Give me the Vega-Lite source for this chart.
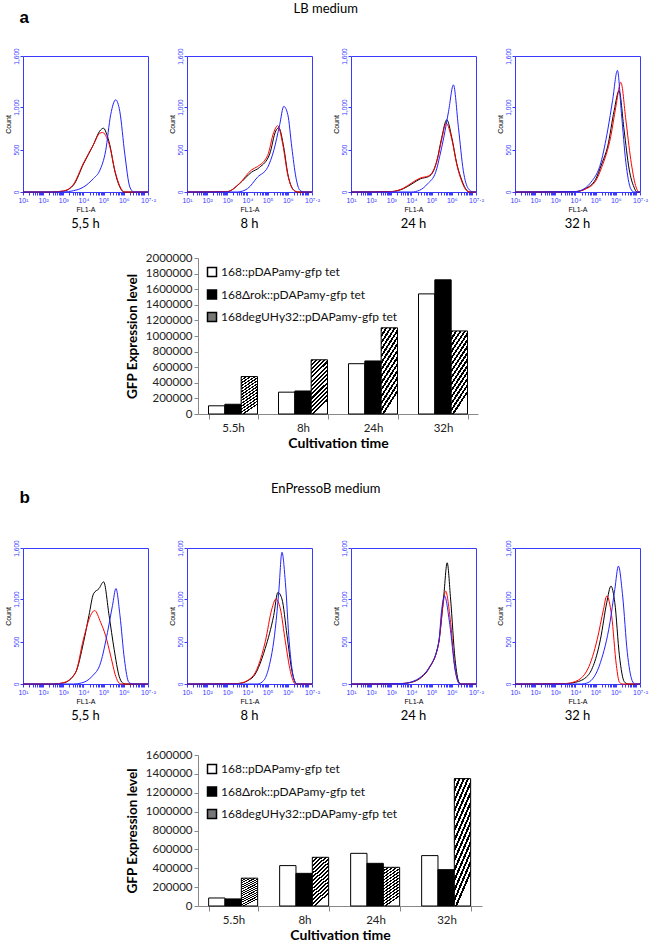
{
"$schema": "https://vega.github.io/schema/vega-lite/v6.json",
"padding": {"left": 3, "right": 3, "top": 3, "bottom": 3},
"background": "white",
"config": {
  "view": {"stroke": null},
  "axis": {"grid": false},
  "title": {"color": "#000"}
},
"datasets": {
"hist": [
{"p":"a1","s":"k","e":1,"c":0},{"p":"a1","s":"k","e":2.4,"c":0},{"p":"a1","s":"k","e":3,"c":10},{"p":"a1","s":"k","e":3.5,"c":80},{"p":"a1","s":"k","e":4,"c":330},{"p":"a1","s":"k","e":4.5,"c":560},{"p":"a1","s":"k","e":4.8,"c":715},{"p":"a1","s":"k","e":5,"c":750},{"p":"a1","s":"k","e":5.15,"c":680},{"p":"a1","s":"k","e":5.3,"c":560},{"p":"a1","s":"k","e":5.55,"c":250},{"p":"a1","s":"k","e":5.8,"c":60},{"p":"a1","s":"k","e":6,"c":0},{"p":"a1","s":"k","e":7.2,"c":0},
{"p":"a1","s":"r","e":1,"c":0},{"p":"a1","s":"r","e":2.4,"c":0},{"p":"a1","s":"r","e":3,"c":12},{"p":"a1","s":"r","e":3.5,"c":90},{"p":"a1","s":"r","e":4,"c":340},{"p":"a1","s":"r","e":4.5,"c":560},{"p":"a1","s":"r","e":4.8,"c":690},{"p":"a1","s":"r","e":4.95,"c":700},{"p":"a1","s":"r","e":5.15,"c":640},{"p":"a1","s":"r","e":5.3,"c":540},{"p":"a1","s":"r","e":5.55,"c":260},{"p":"a1","s":"r","e":5.8,"c":70},{"p":"a1","s":"r","e":6.05,"c":0},{"p":"a1","s":"r","e":7.2,"c":0},
{"p":"a1","s":"b","e":1,"c":0},{"p":"a1","s":"b","e":3,"c":0},{"p":"a1","s":"b","e":3.5,"c":15},{"p":"a1","s":"b","e":4,"c":58},{"p":"a1","s":"b","e":4.5,"c":160},{"p":"a1","s":"b","e":4.8,"c":250},{"p":"a1","s":"b","e":5.1,"c":485},{"p":"a1","s":"b","e":5.35,"c":910},{"p":"a1","s":"b","e":5.6,"c":1085},{"p":"a1","s":"b","e":5.8,"c":950},{"p":"a1","s":"b","e":6.05,"c":445},{"p":"a1","s":"b","e":6.3,"c":58},{"p":"a1","s":"b","e":6.5,"c":0},{"p":"a1","s":"b","e":7.2,"c":0},
{"p":"a2","s":"k","e":1,"c":0},{"p":"a2","s":"k","e":3,"c":5},{"p":"a2","s":"k","e":3.6,"c":97},{"p":"a2","s":"k","e":4.2,"c":233},{"p":"a2","s":"k","e":4.6,"c":290},{"p":"a2","s":"k","e":5.1,"c":446},{"p":"a2","s":"k","e":5.4,"c":717},{"p":"a2","s":"k","e":5.55,"c":756},{"p":"a2","s":"k","e":5.8,"c":523},{"p":"a2","s":"k","e":6,"c":213},{"p":"a2","s":"k","e":6.3,"c":20},{"p":"a2","s":"k","e":6.5,"c":0},{"p":"a2","s":"k","e":7.2,"c":0},
{"p":"a2","s":"r","e":1,"c":0},{"p":"a2","s":"r","e":3,"c":5},{"p":"a2","s":"r","e":3.6,"c":100},{"p":"a2","s":"r","e":4.2,"c":260},{"p":"a2","s":"r","e":4.5,"c":300},{"p":"a2","s":"r","e":5,"c":430},{"p":"a2","s":"r","e":5.3,"c":700},{"p":"a2","s":"r","e":5.5,"c":780},{"p":"a2","s":"r","e":5.75,"c":560},{"p":"a2","s":"r","e":6,"c":200},{"p":"a2","s":"r","e":6.3,"c":20},{"p":"a2","s":"r","e":6.5,"c":0},{"p":"a2","s":"r","e":7.2,"c":0},
{"p":"a2","s":"b","e":1,"c":0},{"p":"a2","s":"b","e":3.5,"c":0},{"p":"a2","s":"b","e":4,"c":39},{"p":"a2","s":"b","e":4.5,"c":175},{"p":"a2","s":"b","e":5,"c":290},{"p":"a2","s":"b","e":5.3,"c":485},{"p":"a2","s":"b","e":5.6,"c":795},{"p":"a2","s":"b","e":5.8,"c":1008},{"p":"a2","s":"b","e":6,"c":911},{"p":"a2","s":"b","e":6.2,"c":523},{"p":"a2","s":"b","e":6.4,"c":175},{"p":"a2","s":"b","e":6.6,"c":20},{"p":"a2","s":"b","e":6.8,"c":0},{"p":"a2","s":"b","e":7.2,"c":0},
{"p":"a3","s":"k","e":1,"c":0},{"p":"a3","s":"k","e":3,"c":5},{"p":"a3","s":"k","e":3.6,"c":39},{"p":"a3","s":"k","e":4.03,"c":97},{"p":"a3","s":"k","e":4.44,"c":155},{"p":"a3","s":"k","e":4.85,"c":182},{"p":"a3","s":"k","e":5.1,"c":252},{"p":"a3","s":"k","e":5.26,"c":368},{"p":"a3","s":"k","e":5.5,"c":640},{"p":"a3","s":"k","e":5.75,"c":850},{"p":"a3","s":"k","e":6,"c":640},{"p":"a3","s":"k","e":6.25,"c":330},{"p":"a3","s":"k","e":6.5,"c":136},{"p":"a3","s":"k","e":6.74,"c":20},{"p":"a3","s":"k","e":6.9,"c":0},{"p":"a3","s":"k","e":7.2,"c":0},
{"p":"a3","s":"r","e":1,"c":0},{"p":"a3","s":"r","e":3,"c":5},{"p":"a3","s":"r","e":3.6,"c":45},{"p":"a3","s":"r","e":4.03,"c":110},{"p":"a3","s":"r","e":4.44,"c":165},{"p":"a3","s":"r","e":4.85,"c":190},{"p":"a3","s":"r","e":5.1,"c":260},{"p":"a3","s":"r","e":5.3,"c":400},{"p":"a3","s":"r","e":5.5,"c":620},{"p":"a3","s":"r","e":5.72,"c":810},{"p":"a3","s":"r","e":6,"c":620},{"p":"a3","s":"r","e":6.25,"c":320},{"p":"a3","s":"r","e":6.5,"c":120},{"p":"a3","s":"r","e":6.74,"c":15},{"p":"a3","s":"r","e":6.9,"c":0},{"p":"a3","s":"r","e":7.2,"c":0},
{"p":"a3","s":"b","e":1,"c":0},{"p":"a3","s":"b","e":4,"c":0},{"p":"a3","s":"b","e":4.4,"c":20},{"p":"a3","s":"b","e":4.8,"c":97},{"p":"a3","s":"b","e":5.2,"c":233},{"p":"a3","s":"b","e":5.4,"c":420},{"p":"a3","s":"b","e":5.6,"c":640},{"p":"a3","s":"b","e":5.84,"c":950},{"p":"a3","s":"b","e":6.08,"c":1260},{"p":"a3","s":"b","e":6.33,"c":756},{"p":"a3","s":"b","e":6.57,"c":252},{"p":"a3","s":"b","e":6.82,"c":39},{"p":"a3","s":"b","e":7.07,"c":0},{"p":"a3","s":"b","e":7.2,"c":0},
{"p":"a4","s":"k","e":1,"c":0},{"p":"a4","s":"k","e":4,"c":5},{"p":"a4","s":"k","e":4.5,"c":40},{"p":"a4","s":"k","e":5,"c":150},{"p":"a4","s":"k","e":5.3,"c":330},{"p":"a4","s":"k","e":5.6,"c":540},{"p":"a4","s":"k","e":5.92,"c":960},{"p":"a4","s":"k","e":6.16,"c":1190},{"p":"a4","s":"k","e":6.41,"c":730},{"p":"a4","s":"k","e":6.66,"c":270},{"p":"a4","s":"k","e":6.9,"c":58},{"p":"a4","s":"k","e":7.05,"c":0},{"p":"a4","s":"k","e":7.2,"c":0},
{"p":"a4","s":"r","e":1,"c":0},{"p":"a4","s":"r","e":4,"c":5},{"p":"a4","s":"r","e":4.5,"c":35},{"p":"a4","s":"r","e":5,"c":130},{"p":"a4","s":"r","e":5.3,"c":290},{"p":"a4","s":"r","e":5.75,"c":654},{"p":"a4","s":"r","e":6,"c":1000},{"p":"a4","s":"r","e":6.25,"c":1290},{"p":"a4","s":"r","e":6.5,"c":846},{"p":"a4","s":"r","e":6.74,"c":385},{"p":"a4","s":"r","e":6.98,"c":77},{"p":"a4","s":"r","e":7.15,"c":0},{"p":"a4","s":"r","e":7.2,"c":0},
{"p":"a4","s":"b","e":1,"c":0},{"p":"a4","s":"b","e":4,"c":5},{"p":"a4","s":"b","e":4.5,"c":50},{"p":"a4","s":"b","e":4.77,"c":115},{"p":"a4","s":"b","e":5.26,"c":346},{"p":"a4","s":"b","e":5.6,"c":730},{"p":"a4","s":"b","e":5.84,"c":1077},{"p":"a4","s":"b","e":6.08,"c":1430},{"p":"a4","s":"b","e":6.28,"c":923},{"p":"a4","s":"b","e":6.5,"c":346},{"p":"a4","s":"b","e":6.74,"c":38},{"p":"a4","s":"b","e":6.9,"c":0},{"p":"a4","s":"b","e":7.2,"c":0},
{"p":"b1","s":"k","e":1,"c":0},{"p":"b1","s":"k","e":2.5,"c":0},{"p":"b1","s":"k","e":3,"c":12},{"p":"b1","s":"k","e":3.6,"c":131},{"p":"b1","s":"k","e":4,"c":488},{"p":"b1","s":"k","e":4.27,"c":806},{"p":"b1","s":"k","e":4.5,"c":1063},{"p":"b1","s":"k","e":4.77,"c":1123},{"p":"b1","s":"k","e":5,"c":1202},{"p":"b1","s":"k","e":5.27,"c":806},{"p":"b1","s":"k","e":5.52,"c":409},{"p":"b1","s":"k","e":5.77,"c":91},{"p":"b1","s":"k","e":5.94,"c":12},{"p":"b1","s":"k","e":6.1,"c":0},{"p":"b1","s":"k","e":7.2,"c":0},
{"p":"b1","s":"r","e":1,"c":0},{"p":"b1","s":"r","e":2.5,"c":0},{"p":"b1","s":"r","e":3,"c":15},{"p":"b1","s":"r","e":3.6,"c":131},{"p":"b1","s":"r","e":4,"c":528},{"p":"b1","s":"r","e":4.35,"c":806},{"p":"b1","s":"r","e":4.55,"c":865},{"p":"b1","s":"r","e":4.85,"c":726},{"p":"b1","s":"r","e":5.1,"c":567},{"p":"b1","s":"r","e":5.35,"c":330},{"p":"b1","s":"r","e":5.6,"c":91},{"p":"b1","s":"r","e":5.77,"c":10},{"p":"b1","s":"r","e":5.9,"c":0},{"p":"b1","s":"r","e":7.2,"c":0},
{"p":"b1","s":"b","e":1,"c":0},{"p":"b1","s":"b","e":3.5,"c":0},{"p":"b1","s":"b","e":3.9,"c":12},{"p":"b1","s":"b","e":4.43,"c":91},{"p":"b1","s":"b","e":4.85,"c":250},{"p":"b1","s":"b","e":5.19,"c":607},{"p":"b1","s":"b","e":5.44,"c":925},{"p":"b1","s":"b","e":5.61,"c":1123},{"p":"b1","s":"b","e":5.81,"c":806},{"p":"b1","s":"b","e":6.03,"c":290},{"p":"b1","s":"b","e":6.25,"c":20},{"p":"b1","s":"b","e":6.45,"c":0},{"p":"b1","s":"b","e":7.2,"c":0},
{"p":"b2","s":"k","e":1,"c":0},{"p":"b2","s":"k","e":3.5,"c":5},{"p":"b2","s":"k","e":4.22,"c":70},{"p":"b2","s":"k","e":4.88,"c":419},{"p":"b2","s":"k","e":5.3,"c":806},{"p":"b2","s":"k","e":5.51,"c":1078},{"p":"b2","s":"k","e":5.71,"c":1000},{"p":"b2","s":"k","e":5.96,"c":574},{"p":"b2","s":"k","e":6.21,"c":147},{"p":"b2","s":"k","e":6.45,"c":0},{"p":"b2","s":"k","e":7.2,"c":0},
{"p":"b2","s":"r","e":1,"c":0},{"p":"b2","s":"r","e":3.5,"c":5},{"p":"b2","s":"r","e":4.22,"c":80},{"p":"b2","s":"r","e":4.88,"c":496},{"p":"b2","s":"r","e":5.21,"c":884},{"p":"b2","s":"r","e":5.41,"c":1000},{"p":"b2","s":"r","e":5.63,"c":884},{"p":"b2","s":"r","e":5.88,"c":496},{"p":"b2","s":"r","e":6.13,"c":147},{"p":"b2","s":"r","e":6.38,"c":0},{"p":"b2","s":"r","e":7.2,"c":0},
{"p":"b2","s":"b","e":1,"c":0},{"p":"b2","s":"b","e":4.5,"c":0},{"p":"b2","s":"b","e":4.8,"c":40},{"p":"b2","s":"b","e":5.05,"c":186},{"p":"b2","s":"b","e":5.38,"c":651},{"p":"b2","s":"b","e":5.55,"c":1078},{"p":"b2","s":"b","e":5.71,"c":1550},{"p":"b2","s":"b","e":5.88,"c":1194},{"p":"b2","s":"b","e":6.07,"c":496},{"p":"b2","s":"b","e":6.29,"c":70},{"p":"b2","s":"b","e":6.45,"c":0},{"p":"b2","s":"b","e":7.2,"c":0},
{"p":"b3","s":"k","e":1,"c":0},{"p":"b3","s":"k","e":3.5,"c":5},{"p":"b3","s":"k","e":4,"c":20},{"p":"b3","s":"k","e":4.5,"c":80},{"p":"b3","s":"k","e":4.85,"c":176},{"p":"b3","s":"k","e":5.35,"c":488},{"p":"b3","s":"k","e":5.6,"c":1035},{"p":"b3","s":"k","e":5.77,"c":1426},{"p":"b3","s":"k","e":5.94,"c":1000},{"p":"b3","s":"k","e":6.16,"c":293},{"p":"b3","s":"k","e":6.36,"c":20},{"p":"b3","s":"k","e":6.5,"c":0},{"p":"b3","s":"k","e":7.2,"c":0},
{"p":"b3","s":"r","e":1,"c":0},{"p":"b3","s":"r","e":3.5,"c":5},{"p":"b3","s":"r","e":4,"c":22},{"p":"b3","s":"r","e":4.5,"c":85},{"p":"b3","s":"r","e":4.85,"c":180},{"p":"b3","s":"r","e":5.35,"c":480},{"p":"b3","s":"r","e":5.55,"c":900},{"p":"b3","s":"r","e":5.69,"c":1094},{"p":"b3","s":"r","e":5.94,"c":723},{"p":"b3","s":"r","e":6.16,"c":176},{"p":"b3","s":"r","e":6.4,"c":0},{"p":"b3","s":"r","e":7.2,"c":0},
{"p":"b3","s":"b","e":1,"c":0},{"p":"b3","s":"b","e":3.5,"c":5},{"p":"b3","s":"b","e":4,"c":25},{"p":"b3","s":"b","e":4.5,"c":90},{"p":"b3","s":"b","e":4.85,"c":185},{"p":"b3","s":"b","e":5.35,"c":490},{"p":"b3","s":"b","e":5.5,"c":880},{"p":"b3","s":"b","e":5.64,"c":1035},{"p":"b3","s":"b","e":5.9,"c":700},{"p":"b3","s":"b","e":6.16,"c":176},{"p":"b3","s":"b","e":6.4,"c":0},{"p":"b3","s":"b","e":7.2,"c":0},
{"p":"b4","s":"k","e":1,"c":0},{"p":"b4","s":"k","e":3.5,"c":5},{"p":"b4","s":"k","e":4,"c":20},{"p":"b4","s":"k","e":4.61,"c":98},{"p":"b4","s":"k","e":5.24,"c":527},{"p":"b4","s":"k","e":5.55,"c":957},{"p":"b4","s":"k","e":5.76,"c":1152},{"p":"b4","s":"k","e":5.95,"c":957},{"p":"b4","s":"k","e":6.18,"c":332},{"p":"b4","s":"k","e":6.42,"c":27},{"p":"b4","s":"k","e":6.6,"c":0},{"p":"b4","s":"k","e":7.2,"c":0},
{"p":"b4","s":"r","e":1,"c":0},{"p":"b4","s":"r","e":3.5,"c":5},{"p":"b4","s":"r","e":4,"c":30},{"p":"b4","s":"r","e":4.61,"c":176},{"p":"b4","s":"r","e":5.08,"c":527},{"p":"b4","s":"r","e":5.39,"c":879},{"p":"b4","s":"r","e":5.55,"c":1035},{"p":"b4","s":"r","e":5.79,"c":809},{"p":"b4","s":"r","e":6.03,"c":215},{"p":"b4","s":"r","e":6.18,"c":20},{"p":"b4","s":"r","e":6.35,"c":0},{"p":"b4","s":"r","e":7.2,"c":0},
{"p":"b4","s":"b","e":1,"c":0},{"p":"b4","s":"b","e":4.3,"c":0},{"p":"b4","s":"b","e":4.61,"c":15},{"p":"b4","s":"b","e":5.24,"c":254},{"p":"b4","s":"b","e":5.71,"c":723},{"p":"b4","s":"b","e":5.95,"c":1113},{"p":"b4","s":"b","e":6.13,"c":1387},{"p":"b4","s":"b","e":6.34,"c":1035},{"p":"b4","s":"b","e":6.57,"c":371},{"p":"b4","s":"b","e":6.81,"c":40},{"p":"b4","s":"b","e":6.95,"c":0},{"p":"b4","s":"b","e":7.2,"c":0}
],
"bars": [
{"m":"A","time":"5.5h","strain":"168::pDAPamy-gfp tet","gfp":105000},
{"m":"A","time":"5.5h","strain":"168Δrok::pDAPamy-gfp tet","gfp":125000},
{"m":"A","time":"5.5h","strain":"168degUHy32::pDAPamy-gfp tet","gfp":480000},
{"m":"A","time":"8h","strain":"168::pDAPamy-gfp tet","gfp":280000},
{"m":"A","time":"8h","strain":"168Δrok::pDAPamy-gfp tet","gfp":295000},
{"m":"A","time":"8h","strain":"168degUHy32::pDAPamy-gfp tet","gfp":695000},
{"m":"A","time":"24h","strain":"168::pDAPamy-gfp tet","gfp":645000},
{"m":"A","time":"24h","strain":"168Δrok::pDAPamy-gfp tet","gfp":680000},
{"m":"A","time":"24h","strain":"168degUHy32::pDAPamy-gfp tet","gfp":1105000},
{"m":"A","time":"32h","strain":"168::pDAPamy-gfp tet","gfp":1540000},
{"m":"A","time":"32h","strain":"168Δrok::pDAPamy-gfp tet","gfp":1720000},
{"m":"A","time":"32h","strain":"168degUHy32::pDAPamy-gfp tet","gfp":1065000},
{"m":"B","time":"5.5h","strain":"168::pDAPamy-gfp tet","gfp":85000},
{"m":"B","time":"5.5h","strain":"168Δrok::pDAPamy-gfp tet","gfp":75000},
{"m":"B","time":"5.5h","strain":"168degUHy32::pDAPamy-gfp tet","gfp":295000},
{"m":"B","time":"8h","strain":"168::pDAPamy-gfp tet","gfp":428000},
{"m":"B","time":"8h","strain":"168Δrok::pDAPamy-gfp tet","gfp":346000},
{"m":"B","time":"8h","strain":"168degUHy32::pDAPamy-gfp tet","gfp":516000},
{"m":"B","time":"24h","strain":"168::pDAPamy-gfp tet","gfp":558000},
{"m":"B","time":"24h","strain":"168Δrok::pDAPamy-gfp tet","gfp":452000},
{"m":"B","time":"24h","strain":"168degUHy32::pDAPamy-gfp tet","gfp":410000},
{"m":"B","time":"32h","strain":"168::pDAPamy-gfp tet","gfp":534000},
{"m":"B","time":"32h","strain":"168Δrok::pDAPamy-gfp tet","gfp":385000},
{"m":"B","time":"32h","strain":"168degUHy32::pDAPamy-gfp tet","gfp":1350000}
]
},
"resolve": {"scale": {"fill": "independent", "color": "independent"}, "legend": {"fill": "independent", "color": "independent"}},
"vconcat": [
{
 "title": {"text": "a", "anchor": "start", "fontSize": 17, "fontWeight": "bold", "font": "Liberation Sans", "dx": 16, "dy": 24, "offset": 0},
 "spacing": 20,
 "resolve": {"scale": {"fill": "independent", "color": "independent"}, "legend": {"fill": "independent", "color": "independent"}},
 "vconcat": [
  {
   "title": {"text": "LB medium", "anchor": "middle", "fontSize": 13, "fontWeight": "normal", "font": "Lato", "offset": 31},
   "spacing": 11,
   "hconcat": [
    {"data": {"name": "hist"}, "transform": [{"filter": "datum.p == 'a1'"}], "width": 125, "height": 136, "view": {"stroke": "#3a3aff", "strokeWidth": 1},
     "title": {"text": "5,5 h", "orient": "bottom", "anchor": "middle", "frame": "group", "fontSize": 13, "fontWeight": "normal", "font": "Lato", "offset": 6},
     "mark": {"type": "line", "strokeWidth": 1, "interpolate": "monotone"},
     "encoding": {
      "x": {"field": "e", "type": "quantitative", "scale": {"domain": [1, 7.2], "nice": false, "zero": false}, "axis": {"title": "FL1-A", "titleFont": "Liberation Sans", "titleFontSize": 7, "titleFontWeight": "normal", "titlePadding": 2, "domain": false, "tickColor": "#3a3aff", "tickSize": 3, "labelColor": "#3a3aff", "labelFont": "Liberation Sans", "labelFontSize": 7, "labelPadding": 1, "labelOverlap": false, "labelFlush": false, "values": [1,1.301,1.477,1.602,1.699,1.778,1.845,1.903,1.954,2,2.301,2.477,2.602,2.699,2.778,2.845,2.903,2.954,3,3.301,3.477,3.602,3.699,3.778,3.845,3.903,3.954,4,4.301,4.477,4.602,4.699,4.778,4.845,4.903,4.954,5,5.301,5.477,5.602,5.699,5.778,5.845,5.903,5.954,6,6.301,6.477,6.602,6.699,6.778,6.845,6.903,6.954,7,7.2], "labelExpr": "datum.value == 1 ? '10¹' : datum.value == 2 ? '10²' : datum.value == 3 ? '10³' : datum.value == 4 ? '10⁴' : datum.value == 5 ? '10⁵' : datum.value == 6 ? '10⁶' : datum.value == 7.2 ? '10⁷·²' : ''"}},
      "y": {"field": "c", "type": "quantitative", "scale": {"domain": [0, 1600], "nice": false}, "axis": {"title": "Count", "titleFont": "Liberation Sans", "titleFontSize": 7, "titleFontWeight": "normal", "titlePadding": 2, "domain": false, "tickColor": "#3a3aff", "tickSize": 3, "labelColor": "#3a3aff", "labelFont": "Liberation Sans", "labelFontSize": 6.5, "labelPadding": 1, "labelAngle": 270, "values": [0, 500, 1000, 1600], "format": ",d"}},
      "color": {"field": "s", "type": "nominal", "scale": {"domain": ["k", "r", "b"], "range": ["#000000", "#ff0000", "#2222ff"]}, "legend": null}
     }},
    {"data": {"name": "hist"}, "transform": [{"filter": "datum.p == 'a2'"}], "width": 125, "height": 136, "view": {"stroke": "#3a3aff", "strokeWidth": 1},
     "title": {"text": "8 h", "orient": "bottom", "anchor": "middle", "frame": "group", "fontSize": 13, "fontWeight": "normal", "font": "Lato", "offset": 6},
     "mark": {"type": "line", "strokeWidth": 1, "interpolate": "monotone"},
     "encoding": {
      "x": {"field": "e", "type": "quantitative", "scale": {"domain": [1, 7.2], "nice": false, "zero": false}, "axis": {"title": "FL1-A", "titleFont": "Liberation Sans", "titleFontSize": 7, "titleFontWeight": "normal", "titlePadding": 2, "domain": false, "tickColor": "#3a3aff", "tickSize": 3, "labelColor": "#3a3aff", "labelFont": "Liberation Sans", "labelFontSize": 7, "labelPadding": 1, "labelOverlap": false, "labelFlush": false, "values": [1,1.301,1.477,1.602,1.699,1.778,1.845,1.903,1.954,2,2.301,2.477,2.602,2.699,2.778,2.845,2.903,2.954,3,3.301,3.477,3.602,3.699,3.778,3.845,3.903,3.954,4,4.301,4.477,4.602,4.699,4.778,4.845,4.903,4.954,5,5.301,5.477,5.602,5.699,5.778,5.845,5.903,5.954,6,6.301,6.477,6.602,6.699,6.778,6.845,6.903,6.954,7,7.2], "labelExpr": "datum.value == 1 ? '10¹' : datum.value == 2 ? '10²' : datum.value == 3 ? '10³' : datum.value == 4 ? '10⁴' : datum.value == 5 ? '10⁵' : datum.value == 6 ? '10⁶' : datum.value == 7.2 ? '10⁷·²' : ''"}},
      "y": {"field": "c", "type": "quantitative", "scale": {"domain": [0, 1600], "nice": false}, "axis": {"title": "Count", "titleFont": "Liberation Sans", "titleFontSize": 7, "titleFontWeight": "normal", "titlePadding": 2, "domain": false, "tickColor": "#3a3aff", "tickSize": 3, "labelColor": "#3a3aff", "labelFont": "Liberation Sans", "labelFontSize": 6.5, "labelPadding": 1, "labelAngle": 270, "values": [0, 500, 1000, 1600], "format": ",d"}},
      "color": {"field": "s", "type": "nominal", "scale": {"domain": ["k", "r", "b"], "range": ["#000000", "#ff0000", "#2222ff"]}, "legend": null}
     }},
    {"data": {"name": "hist"}, "transform": [{"filter": "datum.p == 'a3'"}], "width": 125, "height": 136, "view": {"stroke": "#3a3aff", "strokeWidth": 1},
     "title": {"text": "24 h", "orient": "bottom", "anchor": "middle", "frame": "group", "fontSize": 13, "fontWeight": "normal", "font": "Lato", "offset": 6},
     "mark": {"type": "line", "strokeWidth": 1, "interpolate": "monotone"},
     "encoding": {
      "x": {"field": "e", "type": "quantitative", "scale": {"domain": [1, 7.2], "nice": false, "zero": false}, "axis": {"title": "FL1-A", "titleFont": "Liberation Sans", "titleFontSize": 7, "titleFontWeight": "normal", "titlePadding": 2, "domain": false, "tickColor": "#3a3aff", "tickSize": 3, "labelColor": "#3a3aff", "labelFont": "Liberation Sans", "labelFontSize": 7, "labelPadding": 1, "labelOverlap": false, "labelFlush": false, "values": [1,1.301,1.477,1.602,1.699,1.778,1.845,1.903,1.954,2,2.301,2.477,2.602,2.699,2.778,2.845,2.903,2.954,3,3.301,3.477,3.602,3.699,3.778,3.845,3.903,3.954,4,4.301,4.477,4.602,4.699,4.778,4.845,4.903,4.954,5,5.301,5.477,5.602,5.699,5.778,5.845,5.903,5.954,6,6.301,6.477,6.602,6.699,6.778,6.845,6.903,6.954,7,7.2], "labelExpr": "datum.value == 1 ? '10¹' : datum.value == 2 ? '10²' : datum.value == 3 ? '10³' : datum.value == 4 ? '10⁴' : datum.value == 5 ? '10⁵' : datum.value == 6 ? '10⁶' : datum.value == 7.2 ? '10⁷·²' : ''"}},
      "y": {"field": "c", "type": "quantitative", "scale": {"domain": [0, 1600], "nice": false}, "axis": {"title": "Count", "titleFont": "Liberation Sans", "titleFontSize": 7, "titleFontWeight": "normal", "titlePadding": 2, "domain": false, "tickColor": "#3a3aff", "tickSize": 3, "labelColor": "#3a3aff", "labelFont": "Liberation Sans", "labelFontSize": 6.5, "labelPadding": 1, "labelAngle": 270, "values": [0, 500, 1000, 1600], "format": ",d"}},
      "color": {"field": "s", "type": "nominal", "scale": {"domain": ["k", "r", "b"], "range": ["#000000", "#ff0000", "#2222ff"]}, "legend": null}
     }},
    {"data": {"name": "hist"}, "transform": [{"filter": "datum.p == 'a4'"}], "width": 125, "height": 136, "view": {"stroke": "#3a3aff", "strokeWidth": 1},
     "title": {"text": "32 h", "orient": "bottom", "anchor": "middle", "frame": "group", "fontSize": 13, "fontWeight": "normal", "font": "Lato", "offset": 6},
     "mark": {"type": "line", "strokeWidth": 1, "interpolate": "monotone"},
     "encoding": {
      "x": {"field": "e", "type": "quantitative", "scale": {"domain": [1, 7.2], "nice": false, "zero": false}, "axis": {"title": "FL1-A", "titleFont": "Liberation Sans", "titleFontSize": 7, "titleFontWeight": "normal", "titlePadding": 2, "domain": false, "tickColor": "#3a3aff", "tickSize": 3, "labelColor": "#3a3aff", "labelFont": "Liberation Sans", "labelFontSize": 7, "labelPadding": 1, "labelOverlap": false, "labelFlush": false, "values": [1,1.301,1.477,1.602,1.699,1.778,1.845,1.903,1.954,2,2.301,2.477,2.602,2.699,2.778,2.845,2.903,2.954,3,3.301,3.477,3.602,3.699,3.778,3.845,3.903,3.954,4,4.301,4.477,4.602,4.699,4.778,4.845,4.903,4.954,5,5.301,5.477,5.602,5.699,5.778,5.845,5.903,5.954,6,6.301,6.477,6.602,6.699,6.778,6.845,6.903,6.954,7,7.2], "labelExpr": "datum.value == 1 ? '10¹' : datum.value == 2 ? '10²' : datum.value == 3 ? '10³' : datum.value == 4 ? '10⁴' : datum.value == 5 ? '10⁵' : datum.value == 6 ? '10⁶' : datum.value == 7.2 ? '10⁷·²' : ''"}},
      "y": {"field": "c", "type": "quantitative", "scale": {"domain": [0, 1600], "nice": false}, "axis": {"title": "Count", "titleFont": "Liberation Sans", "titleFontSize": 7, "titleFontWeight": "normal", "titlePadding": 2, "domain": false, "tickColor": "#3a3aff", "tickSize": 3, "labelColor": "#3a3aff", "labelFont": "Liberation Sans", "labelFontSize": 6.5, "labelPadding": 1, "labelAngle": 270, "values": [0, 500, 1000, 1600], "format": ",d"}},
      "color": {"field": "s", "type": "nominal", "scale": {"domain": ["k", "r", "b"], "range": ["#000000", "#ff0000", "#2222ff"]}, "legend": null}
     }}
   ]
  },
  {
   "spacing": 20,
   "resolve": {"scale": {"fill": "independent"}, "legend": {"fill": "independent"}},
   "hconcat": [
    {"width": 82, "height": 10, "data": {"values": [{"z": 0}]}, "mark": {"type": "point", "opacity": 0}, "encoding": {}},
    {"data": {"name": "bars"}, "transform": [{"filter": "datum.m == 'A'"}], "width": 280, "height": 156,
     "mark": {"type": "bar", "stroke": "#000000", "strokeWidth": 1},
     "encoding": {
      "x": {"field": "time", "type": "nominal", "sort": ["5.5h", "8h", "24h", "32h"], "scale": {"paddingInner": 0.3, "paddingOuter": 0.15}, "axis": {"title": "Cultivation time", "titleFont": "Lato", "titleFontSize": 14, "titleFontWeight": "bold", "titlePadding": 3, "labelAngle": 0, "labelFont": "Lato", "labelFontSize": 11.5, "labelColor": "#222", "tickBand": "extent", "tickSize": 5, "tickColor": "#888", "domainColor": "#888", "labelPadding": 3}},
      "xOffset": {"field": "strain", "type": "nominal", "sort": ["168::pDAPamy-gfp tet", "168Δrok::pDAPamy-gfp tet", "168degUHy32::pDAPamy-gfp tet"], "scale": {"paddingInner": 0, "paddingOuter": 0}},
      "y": {"field": "gfp", "type": "quantitative", "scale": {"domain": [0, 2000000], "nice": false}, "axis": {"title": "GFP Expression level", "titleFont": "Lato", "titleFontSize": 13.5, "titleFontWeight": "bold", "titlePadding": 6, "labelFont": "Lato", "labelFontSize": 11.5, "labelColor": "#222", "values": [0,200000,400000,600000,800000,1000000,1200000,1400000,1600000,1800000,2000000], "format": "d", "tickSize": 4, "tickColor": "#888", "domainColor": "#888"}},
      "fill": {"condition": {"test": "datum.strain == '168degUHy32::pDAPamy-gfp tet'", "value": {"gradient": "linear", "x1": 0, "y1": 0, "x2": 0.3, "y2": 1, "stops": [{"offset":0,"color":"#000"},{"offset":0.0357,"color":"#000"},{"offset":0.0357,"color":"#fff"},{"offset":0.0714,"color":"#fff"},{"offset":0.0714,"color":"#000"},{"offset":0.1071,"color":"#000"},{"offset":0.1071,"color":"#fff"},{"offset":0.1429,"color":"#fff"},{"offset":0.1429,"color":"#000"},{"offset":0.1786,"color":"#000"},{"offset":0.1786,"color":"#fff"},{"offset":0.2143,"color":"#fff"},{"offset":0.2143,"color":"#000"},{"offset":0.25,"color":"#000"},{"offset":0.25,"color":"#fff"},{"offset":0.2857,"color":"#fff"},{"offset":0.2857,"color":"#000"},{"offset":0.3214,"color":"#000"},{"offset":0.3214,"color":"#fff"},{"offset":0.3571,"color":"#fff"},{"offset":0.3571,"color":"#000"},{"offset":0.3929,"color":"#000"},{"offset":0.3929,"color":"#fff"},{"offset":0.4286,"color":"#fff"},{"offset":0.4286,"color":"#000"},{"offset":0.4643,"color":"#000"},{"offset":0.4643,"color":"#fff"},{"offset":0.5,"color":"#fff"},{"offset":0.5,"color":"#000"},{"offset":0.5357,"color":"#000"},{"offset":0.5357,"color":"#fff"},{"offset":0.5714,"color":"#fff"},{"offset":0.5714,"color":"#000"},{"offset":0.6071,"color":"#000"},{"offset":0.6071,"color":"#fff"},{"offset":0.6429,"color":"#fff"},{"offset":0.6429,"color":"#000"},{"offset":0.6786,"color":"#000"},{"offset":0.6786,"color":"#fff"},{"offset":0.7143,"color":"#fff"},{"offset":0.7143,"color":"#000"},{"offset":0.75,"color":"#000"},{"offset":0.75,"color":"#fff"},{"offset":0.7857,"color":"#fff"},{"offset":0.7857,"color":"#000"},{"offset":0.8214,"color":"#000"},{"offset":0.8214,"color":"#fff"},{"offset":0.8571,"color":"#fff"},{"offset":0.8571,"color":"#000"},{"offset":0.8929,"color":"#000"},{"offset":0.8929,"color":"#fff"},{"offset":0.9286,"color":"#fff"},{"offset":0.9286,"color":"#000"},{"offset":0.9643,"color":"#000"},{"offset":0.9643,"color":"#fff"},{"offset":1,"color":"#fff"}]}},
        "field": "strain", "type": "nominal", "sort": ["168::pDAPamy-gfp tet", "168Δrok::pDAPamy-gfp tet", "168degUHy32::pDAPamy-gfp tet"],
        "scale": {"domain": ["168::pDAPamy-gfp tet", "168Δrok::pDAPamy-gfp tet", "168degUHy32::pDAPamy-gfp tet"], "range": ["#ffffff", "#000000", "#777777"]},
        "legend": {"title": null, "orient": "top-left", "offset": 8, "labelFont": "Lato", "labelFontSize": 12, "labelColor": "#111", "labelLimit": 0, "symbolType": "square", "symbolSize": 81, "symbolStrokeColor": "#000", "symbolStrokeWidth": 1.5, "symbolOpacity": 1, "rowPadding": 6.5, "labelOffset": 3,
          "encode": {"symbols": {"update": {"stroke": {"value": "#000000"}, "strokeWidth": {"value": 1.5}, "fill": [{"test": "datum.value === '168degUHy32::pDAPamy-gfp tet'", "value": {"gradient": "linear", "x1": 0, "y1": 0, "x2": 1, "y2": 1, "stops": [{"offset":0,"color":"#000"},{"offset":0.42,"color":"#000"},{"offset":0.42,"color":"#fff"},{"offset":0.62,"color":"#fff"},{"offset":0.62,"color":"#000"},{"offset":1,"color":"#000"}]}}, {"test": "datum.value === '168Δrok::pDAPamy-gfp tet'", "value": "#000000"}, {"value": "#ffffff"}]}}}}}
     }}
   ]
  }
 ]
},
{
 "title": {"text": "b", "anchor": "start", "fontSize": 17, "fontWeight": "bold", "font": "Liberation Sans", "dx": 16, "dy": 24, "offset": 0},
 "spacing": 25,
 "resolve": {"scale": {"fill": "independent", "color": "independent"}, "legend": {"fill": "independent", "color": "independent"}},
 "vconcat": [
  {
   "title": {"text": "EnPressoB medium", "anchor": "middle", "fontSize": 13, "fontWeight": "normal", "font": "Lato", "offset": 43},
   "spacing": 11,
   "hconcat": [
    {"data": {"name": "hist"}, "transform": [{"filter": "datum.p == 'b1'"}], "width": 125, "height": 136, "view": {"stroke": "#3a3aff", "strokeWidth": 1},
     "title": {"text": "5,5 h", "orient": "bottom", "anchor": "middle", "frame": "group", "fontSize": 13, "fontWeight": "normal", "font": "Lato", "offset": 6},
     "mark": {"type": "line", "strokeWidth": 1, "interpolate": "monotone"},
     "encoding": {
      "x": {"field": "e", "type": "quantitative", "scale": {"domain": [1, 7.2], "nice": false, "zero": false}, "axis": {"title": "FL1-A", "titleFont": "Liberation Sans", "titleFontSize": 7, "titleFontWeight": "normal", "titlePadding": 2, "domain": false, "tickColor": "#3a3aff", "tickSize": 3, "labelColor": "#3a3aff", "labelFont": "Liberation Sans", "labelFontSize": 7, "labelPadding": 1, "labelOverlap": false, "labelFlush": false, "values": [1,1.301,1.477,1.602,1.699,1.778,1.845,1.903,1.954,2,2.301,2.477,2.602,2.699,2.778,2.845,2.903,2.954,3,3.301,3.477,3.602,3.699,3.778,3.845,3.903,3.954,4,4.301,4.477,4.602,4.699,4.778,4.845,4.903,4.954,5,5.301,5.477,5.602,5.699,5.778,5.845,5.903,5.954,6,6.301,6.477,6.602,6.699,6.778,6.845,6.903,6.954,7,7.2], "labelExpr": "datum.value == 1 ? '10¹' : datum.value == 2 ? '10²' : datum.value == 3 ? '10³' : datum.value == 4 ? '10⁴' : datum.value == 5 ? '10⁵' : datum.value == 6 ? '10⁶' : datum.value == 7.2 ? '10⁷·²' : ''"}},
      "y": {"field": "c", "type": "quantitative", "scale": {"domain": [0, 1600], "nice": false}, "axis": {"title": "Count", "titleFont": "Liberation Sans", "titleFontSize": 7, "titleFontWeight": "normal", "titlePadding": 2, "domain": false, "tickColor": "#3a3aff", "tickSize": 3, "labelColor": "#3a3aff", "labelFont": "Liberation Sans", "labelFontSize": 6.5, "labelPadding": 1, "labelAngle": 270, "values": [0, 500, 1000, 1600], "format": ",d"}},
      "color": {"field": "s", "type": "nominal", "scale": {"domain": ["k", "r", "b"], "range": ["#000000", "#ff0000", "#2222ff"]}, "legend": null}
     }},
    {"data": {"name": "hist"}, "transform": [{"filter": "datum.p == 'b2'"}], "width": 125, "height": 136, "view": {"stroke": "#3a3aff", "strokeWidth": 1},
     "title": {"text": "8 h", "orient": "bottom", "anchor": "middle", "frame": "group", "fontSize": 13, "fontWeight": "normal", "font": "Lato", "offset": 6},
     "mark": {"type": "line", "strokeWidth": 1, "interpolate": "monotone"},
     "encoding": {
      "x": {"field": "e", "type": "quantitative", "scale": {"domain": [1, 7.2], "nice": false, "zero": false}, "axis": {"title": "FL1-A", "titleFont": "Liberation Sans", "titleFontSize": 7, "titleFontWeight": "normal", "titlePadding": 2, "domain": false, "tickColor": "#3a3aff", "tickSize": 3, "labelColor": "#3a3aff", "labelFont": "Liberation Sans", "labelFontSize": 7, "labelPadding": 1, "labelOverlap": false, "labelFlush": false, "values": [1,1.301,1.477,1.602,1.699,1.778,1.845,1.903,1.954,2,2.301,2.477,2.602,2.699,2.778,2.845,2.903,2.954,3,3.301,3.477,3.602,3.699,3.778,3.845,3.903,3.954,4,4.301,4.477,4.602,4.699,4.778,4.845,4.903,4.954,5,5.301,5.477,5.602,5.699,5.778,5.845,5.903,5.954,6,6.301,6.477,6.602,6.699,6.778,6.845,6.903,6.954,7,7.2], "labelExpr": "datum.value == 1 ? '10¹' : datum.value == 2 ? '10²' : datum.value == 3 ? '10³' : datum.value == 4 ? '10⁴' : datum.value == 5 ? '10⁵' : datum.value == 6 ? '10⁶' : datum.value == 7.2 ? '10⁷·²' : ''"}},
      "y": {"field": "c", "type": "quantitative", "scale": {"domain": [0, 1600], "nice": false}, "axis": {"title": "Count", "titleFont": "Liberation Sans", "titleFontSize": 7, "titleFontWeight": "normal", "titlePadding": 2, "domain": false, "tickColor": "#3a3aff", "tickSize": 3, "labelColor": "#3a3aff", "labelFont": "Liberation Sans", "labelFontSize": 6.5, "labelPadding": 1, "labelAngle": 270, "values": [0, 500, 1000, 1600], "format": ",d"}},
      "color": {"field": "s", "type": "nominal", "scale": {"domain": ["k", "r", "b"], "range": ["#000000", "#ff0000", "#2222ff"]}, "legend": null}
     }},
    {"data": {"name": "hist"}, "transform": [{"filter": "datum.p == 'b3'"}], "width": 125, "height": 136, "view": {"stroke": "#3a3aff", "strokeWidth": 1},
     "title": {"text": "24 h", "orient": "bottom", "anchor": "middle", "frame": "group", "fontSize": 13, "fontWeight": "normal", "font": "Lato", "offset": 6},
     "mark": {"type": "line", "strokeWidth": 1, "interpolate": "monotone"},
     "encoding": {
      "x": {"field": "e", "type": "quantitative", "scale": {"domain": [1, 7.2], "nice": false, "zero": false}, "axis": {"title": "FL1-A", "titleFont": "Liberation Sans", "titleFontSize": 7, "titleFontWeight": "normal", "titlePadding": 2, "domain": false, "tickColor": "#3a3aff", "tickSize": 3, "labelColor": "#3a3aff", "labelFont": "Liberation Sans", "labelFontSize": 7, "labelPadding": 1, "labelOverlap": false, "labelFlush": false, "values": [1,1.301,1.477,1.602,1.699,1.778,1.845,1.903,1.954,2,2.301,2.477,2.602,2.699,2.778,2.845,2.903,2.954,3,3.301,3.477,3.602,3.699,3.778,3.845,3.903,3.954,4,4.301,4.477,4.602,4.699,4.778,4.845,4.903,4.954,5,5.301,5.477,5.602,5.699,5.778,5.845,5.903,5.954,6,6.301,6.477,6.602,6.699,6.778,6.845,6.903,6.954,7,7.2], "labelExpr": "datum.value == 1 ? '10¹' : datum.value == 2 ? '10²' : datum.value == 3 ? '10³' : datum.value == 4 ? '10⁴' : datum.value == 5 ? '10⁵' : datum.value == 6 ? '10⁶' : datum.value == 7.2 ? '10⁷·²' : ''"}},
      "y": {"field": "c", "type": "quantitative", "scale": {"domain": [0, 1600], "nice": false}, "axis": {"title": "Count", "titleFont": "Liberation Sans", "titleFontSize": 7, "titleFontWeight": "normal", "titlePadding": 2, "domain": false, "tickColor": "#3a3aff", "tickSize": 3, "labelColor": "#3a3aff", "labelFont": "Liberation Sans", "labelFontSize": 6.5, "labelPadding": 1, "labelAngle": 270, "values": [0, 500, 1000, 1600], "format": ",d"}},
      "color": {"field": "s", "type": "nominal", "scale": {"domain": ["k", "r", "b"], "range": ["#000000", "#ff0000", "#2222ff"]}, "legend": null}
     }},
    {"data": {"name": "hist"}, "transform": [{"filter": "datum.p == 'b4'"}], "width": 125, "height": 136, "view": {"stroke": "#3a3aff", "strokeWidth": 1},
     "title": {"text": "32 h", "orient": "bottom", "anchor": "middle", "frame": "group", "fontSize": 13, "fontWeight": "normal", "font": "Lato", "offset": 6},
     "mark": {"type": "line", "strokeWidth": 1, "interpolate": "monotone"},
     "encoding": {
      "x": {"field": "e", "type": "quantitative", "scale": {"domain": [1, 7.2], "nice": false, "zero": false}, "axis": {"title": "FL1-A", "titleFont": "Liberation Sans", "titleFontSize": 7, "titleFontWeight": "normal", "titlePadding": 2, "domain": false, "tickColor": "#3a3aff", "tickSize": 3, "labelColor": "#3a3aff", "labelFont": "Liberation Sans", "labelFontSize": 7, "labelPadding": 1, "labelOverlap": false, "labelFlush": false, "values": [1,1.301,1.477,1.602,1.699,1.778,1.845,1.903,1.954,2,2.301,2.477,2.602,2.699,2.778,2.845,2.903,2.954,3,3.301,3.477,3.602,3.699,3.778,3.845,3.903,3.954,4,4.301,4.477,4.602,4.699,4.778,4.845,4.903,4.954,5,5.301,5.477,5.602,5.699,5.778,5.845,5.903,5.954,6,6.301,6.477,6.602,6.699,6.778,6.845,6.903,6.954,7,7.2], "labelExpr": "datum.value == 1 ? '10¹' : datum.value == 2 ? '10²' : datum.value == 3 ? '10³' : datum.value == 4 ? '10⁴' : datum.value == 5 ? '10⁵' : datum.value == 6 ? '10⁶' : datum.value == 7.2 ? '10⁷·²' : ''"}},
      "y": {"field": "c", "type": "quantitative", "scale": {"domain": [0, 1600], "nice": false}, "axis": {"title": "Count", "titleFont": "Liberation Sans", "titleFontSize": 7, "titleFontWeight": "normal", "titlePadding": 2, "domain": false, "tickColor": "#3a3aff", "tickSize": 3, "labelColor": "#3a3aff", "labelFont": "Liberation Sans", "labelFontSize": 6.5, "labelPadding": 1, "labelAngle": 270, "values": [0, 500, 1000, 1600], "format": ",d"}},
      "color": {"field": "s", "type": "nominal", "scale": {"domain": ["k", "r", "b"], "range": ["#000000", "#ff0000", "#2222ff"]}, "legend": null}
     }}
   ]
  },
  {
   "spacing": 20,
   "resolve": {"scale": {"fill": "independent"}, "legend": {"fill": "independent"}},
   "hconcat": [
    {"width": 82, "height": 10, "data": {"values": [{"z": 0}]}, "mark": {"type": "point", "opacity": 0}, "encoding": {}},
    {"data": {"name": "bars"}, "transform": [{"filter": "datum.m == 'B'"}], "width": 284, "height": 151,
     "mark": {"type": "bar", "stroke": "#000000", "strokeWidth": 1},
     "encoding": {
      "x": {"field": "time", "type": "nominal", "sort": ["5.5h", "8h", "24h", "32h"], "scale": {"paddingInner": 0.3, "paddingOuter": 0.15}, "axis": {"title": "Cultivation time", "titleFont": "Lato", "titleFontSize": 14, "titleFontWeight": "bold", "titlePadding": 3, "labelAngle": 0, "labelFont": "Lato", "labelFontSize": 11.5, "labelColor": "#222", "tickBand": "extent", "tickSize": 5, "tickColor": "#888", "domainColor": "#888", "labelPadding": 3}},
      "xOffset": {"field": "strain", "type": "nominal", "sort": ["168::pDAPamy-gfp tet", "168Δrok::pDAPamy-gfp tet", "168degUHy32::pDAPamy-gfp tet"], "scale": {"paddingInner": 0, "paddingOuter": 0}},
      "y": {"field": "gfp", "type": "quantitative", "scale": {"domain": [0, 1600000], "nice": false}, "axis": {"title": "GFP Expression level", "titleFont": "Lato", "titleFontSize": 13.5, "titleFontWeight": "bold", "titlePadding": 6, "labelFont": "Lato", "labelFontSize": 11.5, "labelColor": "#222", "values": [0,200000,400000,600000,800000,1000000,1200000,1400000,1600000], "format": "d", "tickSize": 4, "tickColor": "#888", "domainColor": "#888"}},
      "fill": {"condition": {"test": "datum.strain == '168degUHy32::pDAPamy-gfp tet'", "value": {"gradient": "linear", "x1": 0, "y1": 0, "x2": 0.3, "y2": 1, "stops": [{"offset":0,"color":"#000"},{"offset":0.0357,"color":"#000"},{"offset":0.0357,"color":"#fff"},{"offset":0.0714,"color":"#fff"},{"offset":0.0714,"color":"#000"},{"offset":0.1071,"color":"#000"},{"offset":0.1071,"color":"#fff"},{"offset":0.1429,"color":"#fff"},{"offset":0.1429,"color":"#000"},{"offset":0.1786,"color":"#000"},{"offset":0.1786,"color":"#fff"},{"offset":0.2143,"color":"#fff"},{"offset":0.2143,"color":"#000"},{"offset":0.25,"color":"#000"},{"offset":0.25,"color":"#fff"},{"offset":0.2857,"color":"#fff"},{"offset":0.2857,"color":"#000"},{"offset":0.3214,"color":"#000"},{"offset":0.3214,"color":"#fff"},{"offset":0.3571,"color":"#fff"},{"offset":0.3571,"color":"#000"},{"offset":0.3929,"color":"#000"},{"offset":0.3929,"color":"#fff"},{"offset":0.4286,"color":"#fff"},{"offset":0.4286,"color":"#000"},{"offset":0.4643,"color":"#000"},{"offset":0.4643,"color":"#fff"},{"offset":0.5,"color":"#fff"},{"offset":0.5,"color":"#000"},{"offset":0.5357,"color":"#000"},{"offset":0.5357,"color":"#fff"},{"offset":0.5714,"color":"#fff"},{"offset":0.5714,"color":"#000"},{"offset":0.6071,"color":"#000"},{"offset":0.6071,"color":"#fff"},{"offset":0.6429,"color":"#fff"},{"offset":0.6429,"color":"#000"},{"offset":0.6786,"color":"#000"},{"offset":0.6786,"color":"#fff"},{"offset":0.7143,"color":"#fff"},{"offset":0.7143,"color":"#000"},{"offset":0.75,"color":"#000"},{"offset":0.75,"color":"#fff"},{"offset":0.7857,"color":"#fff"},{"offset":0.7857,"color":"#000"},{"offset":0.8214,"color":"#000"},{"offset":0.8214,"color":"#fff"},{"offset":0.8571,"color":"#fff"},{"offset":0.8571,"color":"#000"},{"offset":0.8929,"color":"#000"},{"offset":0.8929,"color":"#fff"},{"offset":0.9286,"color":"#fff"},{"offset":0.9286,"color":"#000"},{"offset":0.9643,"color":"#000"},{"offset":0.9643,"color":"#fff"},{"offset":1,"color":"#fff"}]}},
        "field": "strain", "type": "nominal", "sort": ["168::pDAPamy-gfp tet", "168Δrok::pDAPamy-gfp tet", "168degUHy32::pDAPamy-gfp tet"],
        "scale": {"domain": ["168::pDAPamy-gfp tet", "168Δrok::pDAPamy-gfp tet", "168degUHy32::pDAPamy-gfp tet"], "range": ["#ffffff", "#000000", "#777777"]},
        "legend": {"title": null, "orient": "top-left", "offset": 8, "labelFont": "Lato", "labelFontSize": 12, "labelColor": "#111", "labelLimit": 0, "symbolType": "square", "symbolSize": 81, "symbolStrokeColor": "#000", "symbolStrokeWidth": 1.5, "symbolOpacity": 1, "rowPadding": 6.5, "labelOffset": 3,
          "encode": {"symbols": {"update": {"stroke": {"value": "#000000"}, "strokeWidth": {"value": 1.5}, "fill": [{"test": "datum.value === '168degUHy32::pDAPamy-gfp tet'", "value": {"gradient": "linear", "x1": 0, "y1": 0, "x2": 1, "y2": 1, "stops": [{"offset":0,"color":"#000"},{"offset":0.42,"color":"#000"},{"offset":0.42,"color":"#fff"},{"offset":0.62,"color":"#fff"},{"offset":0.62,"color":"#000"},{"offset":1,"color":"#000"}]}}, {"test": "datum.value === '168Δrok::pDAPamy-gfp tet'", "value": "#000000"}, {"value": "#ffffff"}]}}}}}
     }}
   ]
  }
 ]
}
],
"spacing": 32
}
